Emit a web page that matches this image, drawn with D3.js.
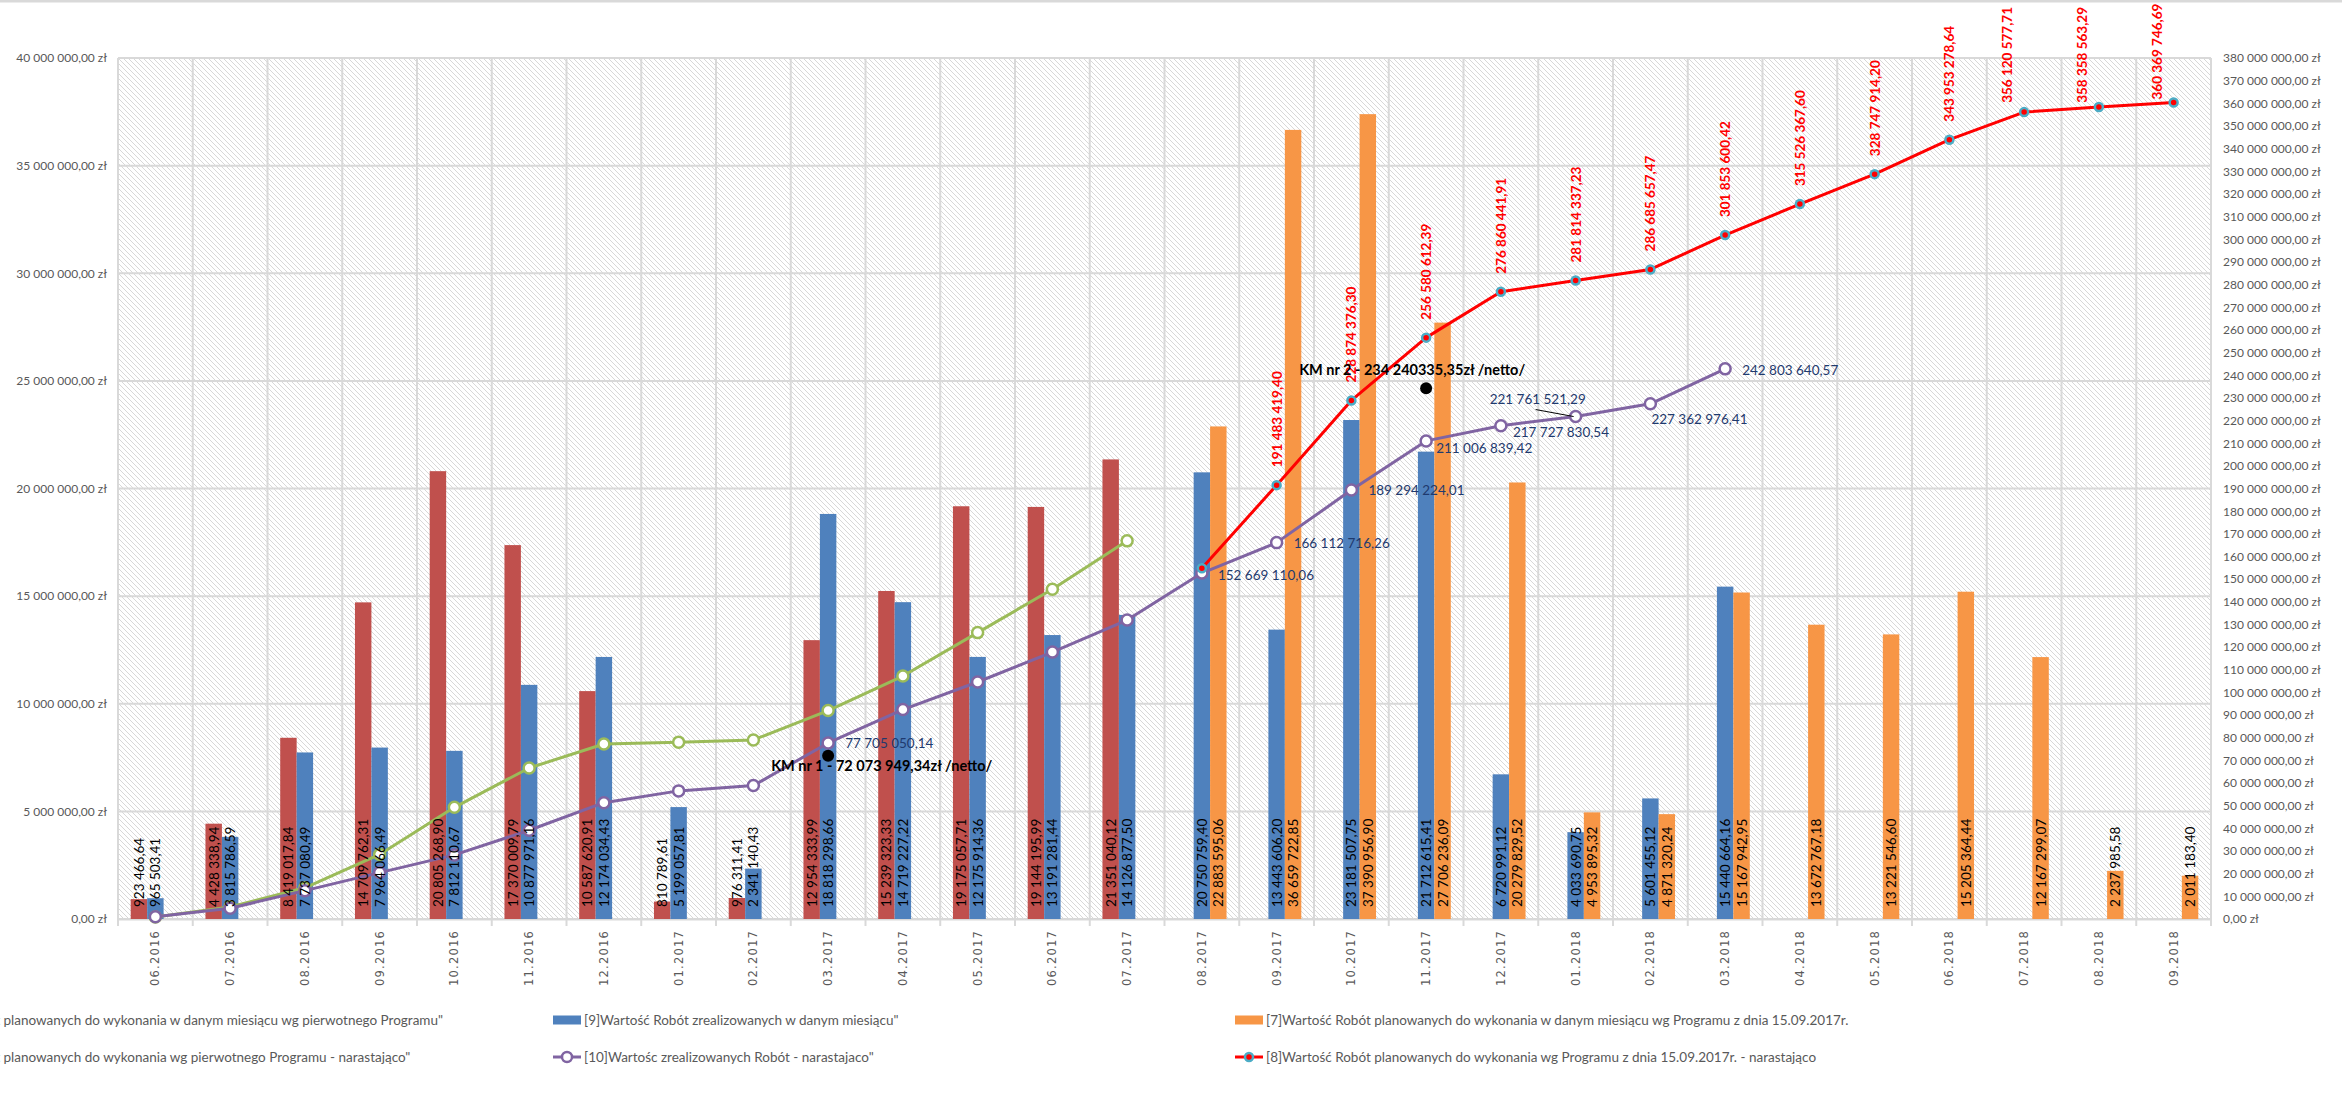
<!DOCTYPE html>
<html>
<head>
<meta charset="utf-8">
<script src="https://cdn.jsdelivr.net/npm/d3@7"></script>
<style>
  body { margin: 0; background: #fff; }
  svg { display: block; }
  text { font-family: Lato, "Open Sans", sans-serif; }
</style>
</head>
<body>
<svg id="chart" width="2342" height="1101"></svg>
<script>
// months on the category axis
const months = ['06.2016','07.2016','08.2016','09.2016','10.2016','11.2016','12.2016',
  '01.2017','02.2017','03.2017','04.2017','05.2017','06.2017','07.2017','08.2017',
  '09.2017','10.2017','11.2017','12.2017','01.2018','02.2018','03.2018','04.2018',
  '05.2018','06.2018','07.2018','08.2018','09.2018'];

// [5] planned per month, original programme
const plannedOriginal = [923466.64, 4428338.94, 8419017.84, 14709762.31, 20805268.90, 17370009.79,
  10587620.91, 810789.61, 976311.41, 12954333.99, 15239323.33, 19175057.71, 19144195.99, 21351040.12,
  null, null, null, null, null, null, null, null, null, null, null, null, null, null];

// [9] realised per month
const realized = [965503.41, 3815786.59, 7737080.49, 7964066.49, 7812110.67, 10877971.16,
  12174034.43, 5199057.81, 2341140.43, 18818298.66, 14719227.22, 12175914.36, 13191281.44, 14126877.50,
  20750759.40, 13443606.20, 23181507.75, 21712615.41, 6720991.12, 4033690.75, 5601455.12, 15440664.16,
  null, null, null, null, null, null];

// [7] planned per month, programme of 15.09.2017
const plannedNew = [null, null, null, null, null, null, null, null, null, null, null, null, null, null,
  22883595.06, 36659722.85, 37390956.90, 27706236.09, 20279829.52, 4953895.32, 4871320.24, 15167942.95,
  13672767.18, 13221546.60, 15205364.44, 12167299.07, 2237985.58, 2011183.40];

// [6] planned cumulative, original programme
const plannedOriginalCum = [923466.64, 5351805.58, 13770823.42, 28480585.73, 49285854.63, 66655864.42,
  77243485.33, 78054274.94, 79030586.35, 91984920.34, 107224243.67, 126399301.38, 145543497.37, 166894537.49,
  null, null, null, null, null, null, null, null, null, null, null, null, null, null];

// [10] realised cumulative
const realizedCum = [965503.41, 4781290.00, 12518370.49, 20482436.98, 28294547.65, 39172518.81,
  51346553.24, 56545611.05, 58886751.48, 77705050.14, 92424277.36, 104600191.72, 117791473.16, 131918350.66,
  152669110.06, 166112716.26, 189294224.01, 211006839.42, 217727830.54, 221761521.29, 227362976.41, 242803640.57,
  null, null, null, null, null, null];

// [8] planned cumulative, programme of 15.09.2017
const plannedNewCum = [null, null, null, null, null, null, null, null, null, null, null, null, null, null,
  154823696.55, 191483419.40, 228874376.30, 256580612.39, 276860441.91, 281814337.23, 286685657.47, 301853600.42,
  315526367.60, 328747914.20, 343953278.64, 356120577.71, 358358563.29, 360369746.69];

// contract milestones
const milestones = [
  {month: '03.2017', value: 72073949.34, text: 'KM nr 1 - 72 073 949,34zł /netto/'},
  {month: '11.2017', value: 234240335.35, text: 'KM nr 2 - 234 240335,35zł /netto/'}
];

// months of [10] that carry a value label
const realizedLabelMonths = ['03.2017','08.2017','09.2017','10.2017','11.2017','12.2017','01.2018','02.2018','03.2018'];

const legendTexts = [
  '[5]Wartość Robót planowanych do wykonania w danym miesiącu wg pierwotnego Programu"',
  '[9]Wartość Robót zrealizowanych w danym miesiącu"',
  '[7]Wartość Robót planowanych do wykonania w danym miesiącu wg Programu z dnia 15.09.2017r.',
  '[6]Wartość Robót planowanych do wykonania wg pierwotnego Programu - narastająco"',
  '[10]Wartośc zrealizowanych Robót - narastajaco"',
  '[8]Wartość Robót planowanych do wykonania wg Programu z dnia 15.09.2017r. - narastająco'
];

// ---- layout / style ----
const W = 2342, H = 1101;
const plot = {left: 118, right: 2211, top: 58, bottom: 919};
const colors = {red: '#C0504D', blue: '#4F81BD', orange: '#F79646',
  green: '#9BBB59', purple: '#8064A2', line: '#FF0000', ring: '#4BACC6'};

const pl = d3.formatLocale({decimal: ',', thousands: '\u00a0', grouping: [3], currency: ['', '']});
const num = pl.format(',.2f');
const money = v => num(v) + ' zł';

const svg = d3.select('#chart');

// hatch background
const defs = svg.append('defs');
const pat = defs.append('pattern').attr('id', 'hatch')
  .attr('width', 5).attr('height', 5).attr('patternUnits', 'userSpaceOnUse');
pat.append('rect').attr('width', 5).attr('height', 5).attr('fill', '#fff');
pat.append('path').attr('d', 'M0,0L5,5M-1,4L1,6M4,-1L6,1')
  .attr('stroke', '#d8d8d8').attr('stroke-width', 1);

// top border of the chart object
svg.append('line').attr('x1', 0).attr('x2', W).attr('y1', 1).attr('y2', 1)
  .attr('stroke', '#d9d9d9').attr('stroke-width', 3);

// scales
const x = d3.scaleBand().domain(months).range([plot.left, plot.right]);
const bw = x.bandwidth();
const slot = d3.scaleBand().domain(['red', 'blue', 'orange']).range([bw * 0.17, bw * 0.83]);
const yL = d3.scaleLinear().domain([0, 40e6]).range([plot.bottom, plot.top]);
const yR = d3.scaleLinear().domain([0, 380e6]).range([plot.bottom, plot.top]);
const cx = m => x(m) + bw / 2;

svg.append('rect')
  .attr('x', plot.left).attr('y', plot.top)
  .attr('width', plot.right - plot.left).attr('height', plot.bottom - plot.top)
  .attr('fill', 'url(#hatch)');

// gridlines
const grid = svg.append('g').attr('stroke', '#d9d9d9').attr('stroke-width', 2);
grid.selectAll('.h').data(d3.range(0, 40e6 + 1, 5e6)).join('line')
  .attr('x1', plot.left).attr('x2', plot.right)
  .attr('y1', d => yL(d)).attr('y2', d => yL(d));
const bounds = months.map(m => x(m)).concat([plot.right]);
grid.selectAll('.v').data(bounds).join('line')
  .attr('x1', d => d).attr('x2', d => d)
  .attr('y1', plot.top).attr('y2', plot.bottom + 7);

// axes
const axisStyle = g => {
  g.select('.domain').remove();
  g.selectAll('text').attr('fill', '#595959').style('font-size', '12px')
    .style('font-family', 'Lato, sans-serif');
};
svg.append('g').attr('transform', `translate(${plot.left - 11},0)`)
  .call(d3.axisLeft(yL).tickValues(d3.range(0, 40e6 + 1, 5e6)).tickSize(0).tickPadding(0).tickFormat(money))
  .call(axisStyle);
svg.append('g').attr('transform', `translate(${plot.right + 12},0)`)
  .call(d3.axisRight(yR).tickValues(d3.range(0, 380e6 + 1, 10e6)).tickSize(0).tickPadding(0).tickFormat(money))
  .call(axisStyle);
const xAxis = svg.append('g').attr('transform', `translate(0,${plot.bottom})`)
  .call(d3.axisBottom(x).tickSize(0));
xAxis.select('.domain').attr('stroke', '#d9d9d9').attr('stroke-width', 2);
xAxis.selectAll('text')
  .attr('transform', 'rotate(-90)')
  .attr('x', -11).attr('y', 0).attr('dy', '0.35em')
  .style('text-anchor', 'end')
  .style('font-family', '"DejaVu Sans", sans-serif')
  .style('font-size', '11.5px')
  .style('letter-spacing', '1.2px')
  .attr('fill', '#595959');

// bars
const barSeries = [
  {key: 'red', values: plannedOriginal},
  {key: 'blue', values: realized},
  {key: 'orange', values: plannedNew}
];
const barG = svg.append('g');
barSeries.forEach(s => {
  const data = months.map((m, i) => ({m, v: s.values[i]})).filter(d => d.v != null);
  barG.append('g').selectAll('rect').data(data).join('rect')
    .attr('x', d => x(d.m) + slot(s.key))
    .attr('width', slot.bandwidth())
    .attr('y', d => yL(d.v))
    .attr('height', d => plot.bottom - yL(d.v))
    .attr('fill', colors[s.key]);
});

// lines
function drawLine(values, color, markerFill, markerStroke, r) {
  const data = months.map((m, i) => ({m, v: values[i]})).filter(d => d.v != null);
  const g = svg.append('g');
  g.append('path').datum(data)
    .attr('d', d3.line().x(d => cx(d.m)).y(d => yR(d.v)))
    .attr('fill', 'none').attr('stroke', color).attr('stroke-width', 3)
    .attr('stroke-linejoin', 'round');
  g.selectAll('circle').data(data).join('circle')
    .attr('cx', d => cx(d.m)).attr('cy', d => yR(d.v)).attr('r', r)
    .attr('fill', markerFill).attr('stroke', markerStroke).attr('stroke-width', 2.5);
  return data;
}
drawLine(plannedOriginalCum, colors.green, '#fff', colors.green, 5.5);
const purpleData = drawLine(realizedCum, colors.purple, '#fff', colors.purple, 5.5);
const redData = drawLine(plannedNewCum, colors.line, colors.line, colors.ring, 4);

// bar value labels (inside base)
const labelG = svg.append('g');
barSeries.forEach(s => {
  const data = months.map((m, i) => ({m, v: s.values[i]})).filter(d => d.v != null);
  labelG.append('g').selectAll('text').data(data).join('text')
    .attr('transform', d => `translate(${x(d.m) + slot(s.key) + slot.bandwidth() / 2},${plot.bottom - 12}) rotate(-90)`)
    .attr('dominant-baseline', 'central')
    .attr('font-size', 13.5).attr('fill', '#000')
    .text(d => num(d.v));
});

// labels of the [8] line
redData.slice(1).forEach(d => {
  const t = labelG.append('text')
    .attr('dominant-baseline', 'central')
    .attr('font-size', 13.5).attr('font-weight', 'bold').attr('fill', colors.line)
    .text(num(d.v));
  const len = t.node().getComputedTextLength();
  let px = cx(d.m), py = yR(d.v) - 18;
  if (py - len < 8) { px -= 17; py = Math.min(yR(d.v) - 3, 7 + len); }
  t.attr('transform', `translate(${px},${py}) rotate(-90)`);
});

// labels of the [10] line
const purpleOffsets = {
  '03.2017': [17, 0], '08.2017': [16, 2], '09.2017': [17, 0], '10.2017': [17, 0],
  '11.2017': [10, 7], '12.2017': [12, 6], '01.2018': [-86, -18], '02.2018': [1, 15], '03.2018': [17, 1]
};
purpleData.filter(d => realizedLabelMonths.includes(d.m)).forEach(d => {
  const [dx, dy] = purpleOffsets[d.m];
  const px = cx(d.m), py = yR(d.v);
  labelG.append('text')
    .attr('x', px + dx).attr('y', py + dy)
    .attr('dominant-baseline', 'central')
    .attr('font-size', 13.5).attr('fill', '#1F3A6E')
    .text(num(d.v));
  if (d.m === '01.2018') {
    labelG.append('line')
      .attr('x1', px - 40).attr('y1', py - 7).attr('x2', px - 2).attr('y2', py)
      .attr('stroke', '#000').attr('stroke-width', 1);
  }
});

// milestones
const kmOffsets = [[-57, 10], [-127, -19]];
milestones.forEach((k, i) => {
  const px = cx(k.month), py = yR(k.value);
  labelG.append('circle').attr('cx', px).attr('cy', py).attr('r', 6).attr('fill', '#000');
  labelG.append('text')
    .attr('x', px + kmOffsets[i][0]).attr('y', py + kmOffsets[i][1])
    .attr('dominant-baseline', 'central')
    .attr('font-size', 14.5).attr('font-weight', 'bold').attr('fill', '#000')
    .text(k.text);
});

// legend
const legendKinds = [
  {type: 'bar', color: colors.red}, {type: 'bar', color: colors.blue}, {type: 'bar', color: colors.orange},
  {type: 'line', color: colors.green, fill: '#fff'}, {type: 'line', color: colors.purple, fill: '#fff'},
  {type: 'line', color: colors.line, fill: colors.line, ring: colors.ring}
];
const legendCols = [null, 553, 1235];
const legendRows = [1020, 1057];
const legend = svg.append('g');
legendTexts.forEach((txt, i) => {
  const col = i % 3, row = Math.floor(i / 3);
  const y = legendRows[row];
  let sx = legendCols[col];
  if (sx === null) {
    // first column starts off the left edge: only "planowanych ..." is visible
    const probe = legend.append('text').attr('font-size', 13.5).text(txt.slice(0, txt.indexOf('planowanych')));
    sx = -probe.node().getComputedTextLength() - 31;
    probe.remove();
  }
  const k = legendKinds[i];
  if (k.type === 'bar') {
    legend.append('rect').attr('x', sx).attr('y', y - 4.5).attr('width', 28).attr('height', 9).attr('fill', k.color);
  } else {
    legend.append('line').attr('x1', sx).attr('x2', sx + 28).attr('y1', y).attr('y2', y)
      .attr('stroke', k.color).attr('stroke-width', 3);
    legend.append('circle').attr('cx', sx + 14).attr('cy', y).attr('r', k.ring ? 4 : 5)
      .attr('fill', k.fill).attr('stroke', k.ring || k.color).attr('stroke-width', 2.5);
  }
  legend.append('text').attr('x', sx + 31).attr('y', y)
    .attr('dominant-baseline', 'central')
    .attr('font-size', 13.5).attr('fill', '#595959')
    .text(txt);
});
</script>
</body>
</html>
